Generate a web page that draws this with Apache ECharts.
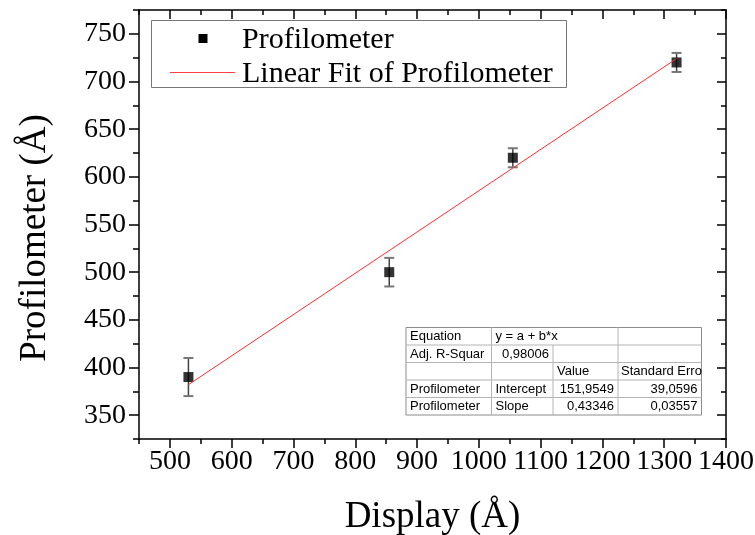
<!DOCTYPE html>
<html><head><meta charset="utf-8">
<script src="https://cdn.jsdelivr.net/npm/echarts@6/dist/echarts.min.js"></script>
<style>html,body{margin:0;padding:0;background:#fff}#c{width:755px;height:535px}</style>
</head><body><div id="c"></div>
<script>
// ---- data ----
const displayX = [530, 855, 1055, 1320];
const profilometerY = [390, 500, 620, 720];
const profilometerErr = [20, 15, 10, 10];
const fitX = [530, 1320];
const fitY = [382, 724];
const xMajorTicks = [500, 600, 700, 800, 900, 1000, 1100, 1200, 1300, 1400];
const xMinorTicks = [450, 550, 650, 750, 850, 950, 1050, 1150, 1250, 1350];
const yMajorTicks = [350, 400, 450, 500, 550, 600, 650, 700, 750];
const yMinorTicks = [325, 375, 425, 475, 525, 575, 625, 675, 725, 775];
const tableCol1 = ['Equation', 'Adj. R-Squar', '', 'Profilometer', 'Profilometer'];
const tableCol2 = ['y = a + b*x', '0,98006', '', 'Intercept', 'Slope'];
const tableCol3 = ['', '', 'Value', '151,9549', '0,43346'];
const tableCol4 = ['', '', 'Standard Erro', '39,0596', '0,03557'];
const legendNames = ['Profilometer', 'Linear Fit of Profilometer'];
const xTitle = 'Display (Å)';
const yTitle = 'Profilometer (Å)';

const SERIF = 'Liberation Serif';
const xMin = 450, xMax = 1400, yMin = 325, yMax = 775;

function xAx(pos, ticks, len, inside, labels, line) {
  return {
    type: 'value', position: pos, min: xMin, max: xMax,
    axisLine: { show: line, onZero: false, lineStyle: { color: '#000', width: 1.5 } },
    axisTick: { show: true, inside: inside, length: len, customValues: ticks, lineStyle: { color: '#000', width: 1.5 } },
    axisLabel: labels ? { show: true, customValues: ticks, formatter: v => String(v), fontFamily: SERIF, fontSize: 28, color: '#000', margin: 9 } : { show: false },
    splitLine: { show: false }
  };
}
function yAx(pos, ticks, len, inside, labels, line) {
  return {
    type: 'value', position: pos, min: yMin, max: yMax,
    axisLine: { show: line, onZero: false, lineStyle: { color: '#000', width: 1.5 } },
    axisTick: { show: true, inside: inside, length: len, customValues: ticks, lineStyle: { color: '#000', width: 1.5 } },
    axisLabel: labels ? { show: true, customValues: ticks, formatter: v => String(v), fontFamily: SERIF, fontSize: 28, color: '#000', margin: 13 } : { show: false },
    splitLine: { show: false }
  };
}

const xAxes = [
  xAx('bottom', xMajorTicks, 9, false, true, true),
  xAx('bottom', xMinorTicks, 5, false, false, false),
  xAx('top', xMajorTicks, 9, true, false, true),
  xAx('top', xMinorTicks, 5, true, false, false)
];
Object.assign(xAxes[0], { name: xTitle, nameLocation: 'middle', nameGap: 60,
  nameTextStyle: { fontFamily: SERIF, fontSize: 37, color: '#000' } });
const yAxes = [
  yAx('left', yMajorTicks, 10, false, true, true),
  yAx('left', yMinorTicks, 6, false, false, false),
  yAx('right', yMajorTicks, 9, true, false, true),
  yAx('right', yMinorTicks, 5, true, false, false)
];

// table graphic
const tx = [406, 491.5, 553, 618, 701.5];
const ty0 = 327.5, rh = 17.5;
const tableEls = [];
tableEls.push({ type: 'rect', shape: { x: tx[0], y: ty0, width: tx[4] - tx[0], height: rh * 5 }, style: { fill: '#fff', stroke: '#8c8c8c', lineWidth: 1 }, z: 10 });
for (let r = 1; r < 5; r++) tableEls.push({ type: 'line', shape: { x1: tx[0], y1: ty0 + rh * r, x2: tx[4], y2: ty0 + rh * r }, style: { stroke: '#b4b4b4', lineWidth: 1 }, z: 10 });
tableEls.push({ type: 'line', shape: { x1: tx[1], y1: ty0, x2: tx[1], y2: ty0 + rh * 5 }, style: { stroke: '#b4b4b4', lineWidth: 1 }, z: 10 });
tableEls.push({ type: 'line', shape: { x1: tx[2], y1: ty0 + rh, x2: tx[2], y2: ty0 + rh * 5 }, style: { stroke: '#b4b4b4', lineWidth: 1 }, z: 10 });
tableEls.push({ type: 'line', shape: { x1: tx[3], y1: ty0, x2: tx[3], y2: ty0 + rh * 5 }, style: { stroke: '#b4b4b4', lineWidth: 1 }, z: 10 });
function cell(txt, x, r, align) {
  if (!txt) return;
  tableEls.push({ type: 'text', x: x, y: ty0 + rh * r + rh / 2 + 0.5, z: 11,
    style: { text: txt, fill: '#000', font: '13px "Liberation Sans", Arial', align: align, verticalAlign: 'middle' } });
}
for (let r = 0; r < 5; r++) {
  cell(tableCol1[r], tx[0] + 4, r, 'left');
  if (r === 1) cell(tableCol2[r], tx[2] - 4, r, 'right'); else cell(tableCol2[r], tx[1] + 4, r, 'left');
  if (r === 2) cell(tableCol3[r], tx[2] + 4, r, 'left'); else cell(tableCol3[r], tx[3] - 4, r, 'right');
  if (r === 2) cell(tableCol4[r], tx[3] + 3, r, 'left'); else cell(tableCol4[r], tx[4] - 4, r, 'right');
}

// legend graphic
const legendEls = [
  { type: 'rect', shape: { x: 151.5, y: 20.5, width: 415, height: 67 }, style: { fill: '#fff', stroke: '#777', lineWidth: 1 }, z: 10 },
  { type: 'rect', shape: { x: 198.5, y: 34, width: 9, height: 9 }, style: { fill: '#000' }, z: 11 },
  { type: 'line', shape: { x1: 170, y1: 72.5, x2: 235, y2: 72.5 }, style: { stroke: '#ff4040', lineWidth: 1 }, z: 11 },
  { type: 'text', x: 242, y: 40, z: 11, style: { text: legendNames[0], fill: '#000', font: '30px "Liberation Serif"', verticalAlign: 'middle' } },
  { type: 'text', x: 242, y: 74, z: 11, style: { text: legendNames[1], fill: '#000', font: '30px "Liberation Serif"', verticalAlign: 'middle' } },
  { type: 'text', x: 35, y: 238, rotation: Math.PI / 2, z: 11, style: { text: yTitle, fill: '#000', font: '37px "Liberation Serif"', align: 'center', verticalAlign: 'middle' } }
];

const chart = echarts.init(document.getElementById('c'), null, { renderer: 'canvas' });
chart.setOption({
  animation: false,
  backgroundColor: '#fff',
  grid: { left: 139, right: 29, top: 10, bottom: 96, containLabel: false, outerBoundsMode: 'none' },
  xAxis: xAxes,
  yAxis: yAxes,
  graphic: legendEls.concat(tableEls),
  series: [
    {
      type: 'custom', name: 'err', xAxisIndex: 0, yAxisIndex: 0, z: 2,
      data: displayX.map((x, i) => [x, profilometerY[i] - profilometerErr[i], profilometerY[i] + profilometerErr[i]]),
      encode: { x: 0, y: [1, 2] },
      renderItem: function (params, api) {
        const x = api.value(0);
        const lo = api.coord([x, api.value(1)]);
        const hi = api.coord([x, api.value(2)]);
        const w = 5;
        return { type: 'group', children: [
          { type: 'line', shape: { x1: lo[0], y1: lo[1], x2: hi[0], y2: hi[1] }, style: { stroke: '#444', lineWidth: 1.5 } },
          { type: 'line', shape: { x1: lo[0] - w, y1: lo[1], x2: lo[0] + w, y2: lo[1] }, style: { stroke: '#777', lineWidth: 2 } },
          { type: 'line', shape: { x1: hi[0] - w, y1: hi[1], x2: hi[0] + w, y2: hi[1] }, style: { stroke: '#777', lineWidth: 2 } }
        ] };
      }
    },
    {
      type: 'scatter', name: legendNames[0], xAxisIndex: 0, yAxisIndex: 0, z: 3,
      symbol: 'rect', symbolSize: 10, itemStyle: { color: '#000' },
      data: displayX.map((x, i) => [x, profilometerY[i]])
    },
    {
      type: 'line', name: legendNames[1], xAxisIndex: 0, yAxisIndex: 0, z: 4,
      showSymbol: false, symbol: 'none', lineStyle: { color: '#ff3030', width: 1 },
      data: fitX.map((x, i) => [x, fitY[i]])
    }
  ]
});
</script></body></html>
